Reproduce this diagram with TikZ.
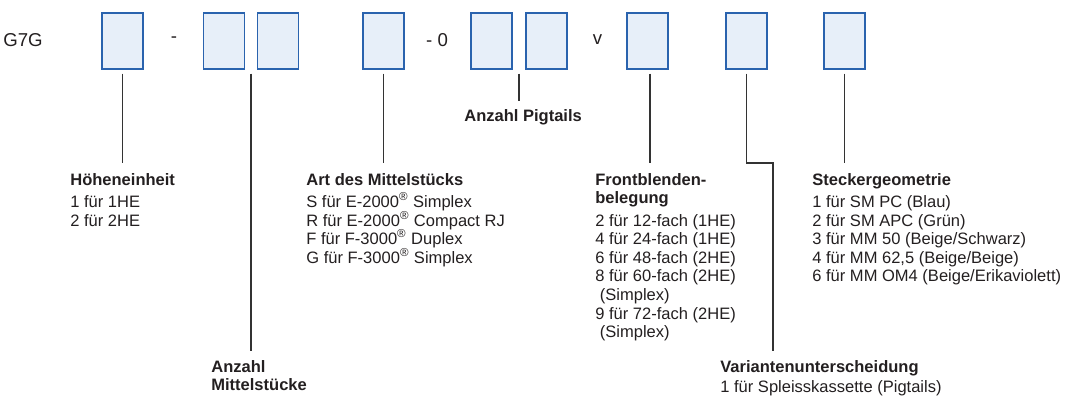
\documentclass[tikz,border=0pt]{standalone}
\usepackage{fontspec}
\setmainfont{Liberation Sans}

\definecolor{feldrand}{HTML}{2A63AE}
\definecolor{feldgrund}{HTML}{E7EFF9}
\definecolor{schrift}{HTML}{231F20}

\tikzset{
    feld/.style={draw=feldrand, fill=feldgrund, line width=0.7pt, minimum width=0.82cm, minimum height=1.12cm, inner sep=0pt},
    zeichen/.style={font=\fontsize{10.6}{12}\selectfont, text=schrift, inner sep=0pt},
    legende/.style={anchor=north west, align=left, font=\fontsize{9.4}{10.6}\selectfont, text=schrift, inner sep=0pt},
    linie/.style={draw=black!80, line width=0.6pt, shorten <=0.08cm},
}

\begin{document}
\begin{tikzpicture}
        \useasboundingbox (0, 0) rectangle (21.34, -7.92);

        \node[zeichen] (g7g) at (0.46, -0.8) {G7G};
        \node[zeichen] (s1) at (3.48, -0.8) {-};
        \node[zeichen] (s2) at (8.74, -0.8) {- 0};
        \node[zeichen] (s3) at (11.95, -0.8) {v};

        \node[feld] (b1) at (2.45, -0.82) {};
        \node[feld] (b2) at (4.48, -0.82) {};
        \node[feld] (b3) at (5.56, -0.82) {};
        \node[feld] (b4) at (7.67, -0.82) {};
        \node[feld] (b5) at (9.83, -0.82) {};
        \node[feld] (b6) at (10.93, -0.82) {};
        \node[feld] (b7) at (12.95, -0.82) {};
        \node[feld] (b8) at (14.93, -0.82) {};
        \node[feld] (b9) at (16.89, -0.82) {};

        \coordinate (e1) at (2.45, -3.26);
        \coordinate (e2) at (5.02, -7.02);
        \coordinate (e4) at (7.67, -3.26);
        \coordinate (e5) at (10.38, -2.02);
        \coordinate (e7) at (13.0, -3.26);
        \coordinate (k8) at (15.46, -3.26);
        \coordinate (e8) at (15.46, -7.02);
        \coordinate (e9) at (16.89, -3.26);

        \draw[linie] (b1) -- (e1);
        \draw[linie] (b2.south -| e2) -- (e2);
        \draw[linie] (b4) -- (e4);
        \draw[linie] (b5.south -| e5) -- (e5);
        \draw[linie] (b7.south -| e7) -- (e7);
        \draw[linie] (b8) |- (k8) -- (e8);
        \draw[linie] (b9) -- (e9);

        \node[legende] (hoehe) at (1.4, -3.46) {\textbf{Höheneinheit}\\[2pt]
            1 für 1HE\\
            2 für 2HE};
        \node[legende] (mittel) at (4.22, -7.2) {\textbf{Anzahl}\\
            \textbf{Mittelstücke}};
        \node[legende] (art) at (6.12, -3.46) {\textbf{Art des Mittelstücks}\\[2pt]
            S für E-2000\textsuperscript{®} Simplex\\
            R für E-2000\textsuperscript{®} Compact RJ\\
            F für F-3000\textsuperscript{®} Duplex\\
            G für F-3000\textsuperscript{®} Simplex};
        \node[legende] (pigtails) at (9.28, -2.18) {\textbf{Anzahl Pigtails}};
        \node[legende] (front) at (11.9, -3.46) {\textbf{Frontblenden-}\\
            \textbf{belegung}\\[2pt]
            2 für 12-fach (1HE)\\
            4 für 24-fach (1HE)\\
            6 für 48-fach (2HE)\\
            8 für 60-fach (2HE)\\
            \hspace*{2.6pt}(Simplex)\\
            9 für 72-fach (2HE)\\
            \hspace*{2.6pt}(Simplex)};
        \node[legende] (variante) at (14.4, -7.2) {\textbf{Variantenunterscheidung}\\[1pt]
            1 für Spleisskassette (Pigtails)};
        \node[legende] (stecker) at (16.24, -3.46) {\textbf{Steckergeometrie}\\[2pt]
            1 für SM PC (Blau)\\
            2 für SM APC (Grün)\\
            3 für MM 50 (Beige/Schwarz)\\
            4 für MM 62,5 (Beige/Beige)\\
            6 für MM OM4 (Beige/Erikaviolett)};
    \end{tikzpicture}
\end{document}
